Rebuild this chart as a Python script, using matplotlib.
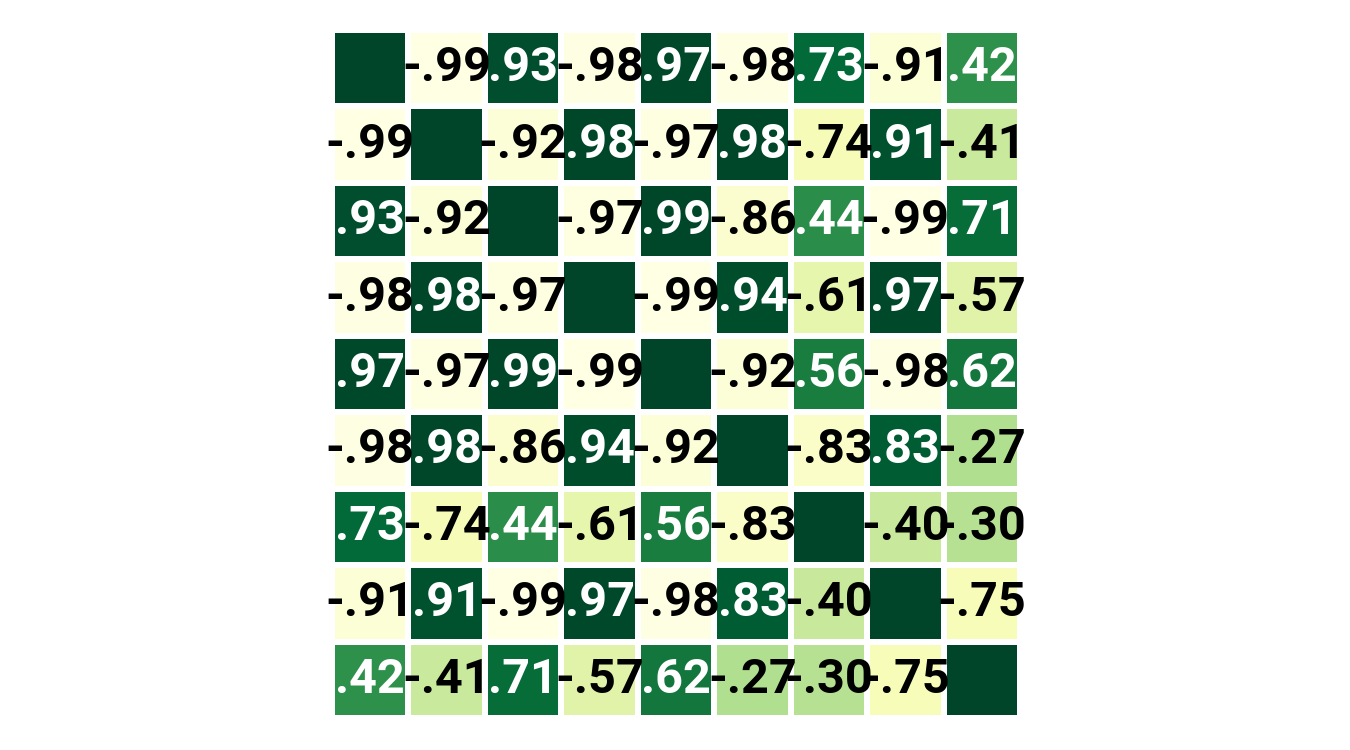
import numpy as np
import matplotlib
matplotlib.use('Agg')
import matplotlib.pyplot as plt

plt.rcParams['font.family'] = ['Roboto', 'DejaVu Sans']

# correlation matrix
row0 = [1.00, -0.99, 0.93, -0.98, 0.97, -0.98, 0.73, -0.91, 0.42]
row1 = [-0.99, 1.00, -0.92, 0.98, -0.97, 0.98, -0.74, 0.91, -0.41]
row2 = [0.93, -0.92, 1.00, -0.97, 0.99, -0.86, 0.44, -0.99, 0.71]
row3 = [-0.98, 0.98, -0.97, 1.00, -0.99, 0.94, -0.61, 0.97, -0.57]
row4 = [0.97, -0.97, 0.99, -0.99, 1.00, -0.92, 0.56, -0.98, 0.62]
row5 = [-0.98, 0.98, -0.86, 0.94, -0.92, 1.00, -0.83, 0.83, -0.27]
row6 = [0.73, -0.74, 0.44, -0.61, 0.56, -0.83, 1.00, -0.40, -0.30]
row7 = [-0.91, 0.91, -0.99, 0.97, -0.98, 0.83, -0.40, 1.00, -0.75]
row8 = [0.42, -0.41, 0.71, -0.57, 0.62, -0.27, -0.30, -0.75, 1.00]

corr = np.array([row0, row1, row2, row3, row4, row5, row6, row7, row8])
n = corr.shape[0]


def fmt(v):
    s = '%.2f' % v
    return s.replace('0.', '.', 1)


fig = plt.figure(figsize=(13.5, 7.5), dpi=100)
ax = fig.add_axes([332 / 1350, 32 / 750, 688 / 1350, 688 / 750])
cmap = plt.get_cmap('YlGn')
ax.pcolormesh(corr, cmap=cmap, vmin=-1, vmax=1, edgecolors='white', linewidth=4.3)
ax.set_xlim(0, n)
ax.set_ylim(n, 0)
ax.set_axis_off()

for i in range(n):
    for j in range(n):
        if i == j:
            continue
        v = corr[i, j]
        r, g, b, _ = cmap((v + 1) / 2)
        lum = 0.299 * r + 0.587 * g + 0.114 * b
        color = 'white' if lum < 0.5 else 'black'
        ax.text(j + 0.5, i + 0.5, fmt(v), ha='center', va='center',
                fontsize=35, fontweight='bold', color=color)

fig.savefig('out.png', dpi=100)
